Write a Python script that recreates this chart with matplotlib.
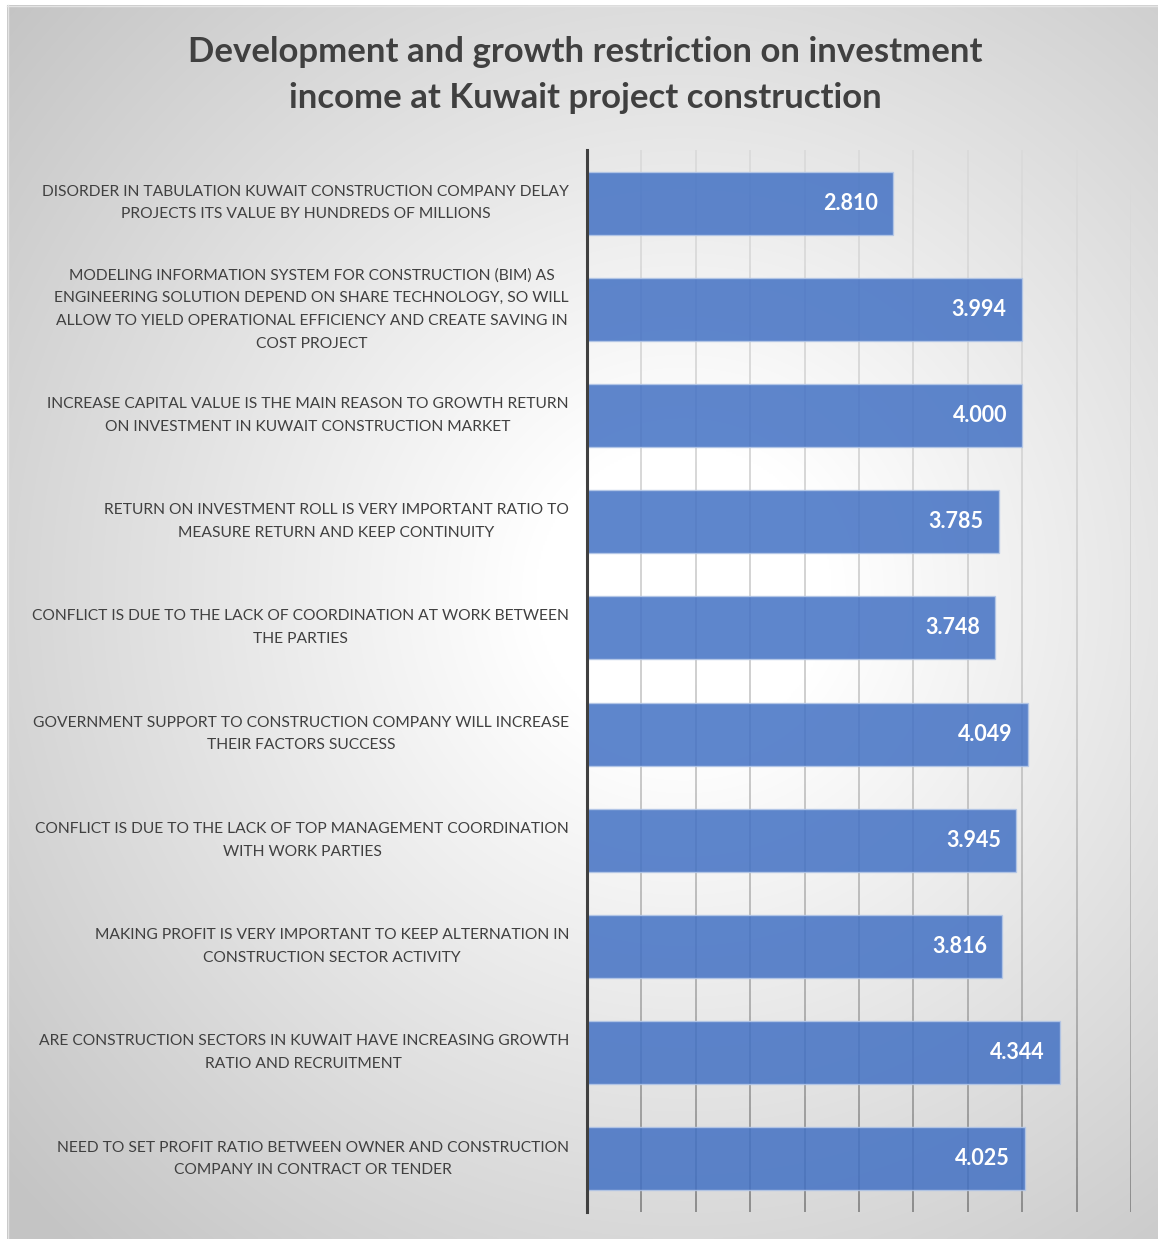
import numpy as np
import matplotlib
matplotlib.use("Agg")
import matplotlib.pyplot as plt
from matplotlib.collections import LineCollection

title = "Development and growth restriction on investment\nincome at Kuwait project construction"
categories = [
    "DISORDER IN TABULATION KUWAIT CONSTRUCTION COMPANY DELAY\nPROJECTS ITS VALUE BY HUNDREDS OF MILLIONS",
    "MODELING INFORMATION SYSTEM FOR CONSTRUCTION (BIM) AS\nENGINEERING SOLUTION DEPEND ON SHARE TECHNOLOGY, SO WILL\nALLOW TO YIELD OPERATIONAL EFFICIENCY AND CREATE SAVING IN\nCOST PROJECT",
    "INCREASE CAPITAL VALUE IS THE MAIN REASON TO GROWTH RETURN\nON INVESTMENT IN KUWAIT CONSTRUCTION MARKET",
    "RETURN ON INVESTMENT ROLL IS VERY IMPORTANT RATIO TO\nMEASURE RETURN AND KEEP CONTINUITY",
    "CONFLICT IS DUE TO THE LACK OF COORDINATION AT WORK BETWEEN\nTHE PARTIES",
    "GOVERNMENT SUPPORT TO CONSTRUCTION COMPANY WILL INCREASE\nTHEIR FACTORS SUCCESS",
    "CONFLICT IS DUE TO THE LACK OF TOP MANAGEMENT COORDINATION\nWITH WORK PARTIES",
    "MAKING PROFIT IS VERY IMPORTANT TO KEEP ALTERNATION IN\nCONSTRUCTION SECTOR ACTIVITY",
    "ARE CONSTRUCTION SECTORS IN KUWAIT HAVE INCREASING GROWTH\nRATIO AND RECRUITMENT",
    "NEED TO SET PROFIT RATIO BETWEEN OWNER AND CONSTRUCTION\nCOMPANY IN CONTRACT OR TENDER",
]
values = [2.810, 3.994, 4.000, 3.785, 3.748, 4.049, 3.945, 3.816, 4.344, 4.025]
value_labels = ["2.810", "3.994", "4.000", "3.785", "3.748", "4.049", "3.945", "3.816", "4.344", "4.025"]

W, H = 1158, 1239
fig = plt.figure(figsize=(W / 100, H / 100), dpi=100)
fig.patch.set_facecolor("white")

# background radial gradient
bg = fig.add_axes([0, 0, 1, 1], zorder=0)
bg.set_xlim(0, W)
bg.set_ylim(H, 0)
bg.axis("off")
yy, xx = np.mgrid[0:H:2, 0:W:2]
r = np.hypot(xx - 680, (yy - 590) * 1.0)
val = 1 - 0.23 * np.clip((r - 150) / 750, 0, 1)
img = np.dstack([val, val, val])
bg.imshow(img, extent=(7, W, H, 5), interpolation="bilinear", aspect="auto")
bg.plot([7.5, 7.5], [5, H], color="#e4e4e4", lw=1)
bg.plot([7, W], [5.5, 5.5], color="#e4e4e4", lw=1)

# main axes
left, right, top, bottom = 587, 1131, 150, 1212
ax = fig.add_axes([left / W, 1 - bottom / H, (right - left) / W, (bottom - top) / H], zorder=1)
ax.patch.set_alpha(0)
n = len(values)
y = np.arange(n)
ax.set_xlim(0, 5)
ax.set_ylim(n - 0.5, -0.5)

# gradient gridlines
segs, cols = [], []
ys = np.linspace(-0.5, n - 0.5, 120)
for gx in np.arange(0.5, 5.01, 0.5):
    for i in range(len(ys) - 1):
        segs.append([(gx, ys[i]), (gx, ys[i + 1])])
        t = ((ys[i] + ys[i + 1]) / 2 + 0.5) / n
        g = 0.855 - 0.05 * t - 0.28 * t ** 3
        cols.append((g, g, g))
lc = LineCollection(segs, colors=cols, linewidths=1.3, zorder=1)
ax.add_collection(lc)

ax.barh(y, values, height=0.593, color="#4472C4", alpha=0.86,
        edgecolor="#b4c7e7", linewidth=1.0, zorder=2)

for yi, v, lab in zip(y, values, value_labels):
    ax.annotate(lab, xy=(v, yi), xytext=(-15, 0), textcoords="offset pixels",
                ha="right", va="center", color="white", fontsize=15.5,
                fontweight="bold", family="Lato", zorder=3)

ax.set_yticks(y)
ax.set_yticklabels(categories, fontsize=11.25, family="Lato", color="#404040",
                   ma="center", linespacing=1.8, va="center")
ax.tick_params(axis="y", length=0, pad=13)
ax.set_xticks([])
for s in ["top", "right", "bottom"]:
    ax.spines[s].set_visible(False)
ax.spines["left"].set_color("#404040")
ax.spines["left"].set_linewidth(2.2)
ax.spines["left"].set_zorder(4)

fig.text(585 / W, 1 - 75 / H, title, ha="center", va="center", fontsize=25,
         fontweight="bold", family="Lato", color="#404040", linespacing=1.52)

fig.savefig("out.png", dpi=100)
